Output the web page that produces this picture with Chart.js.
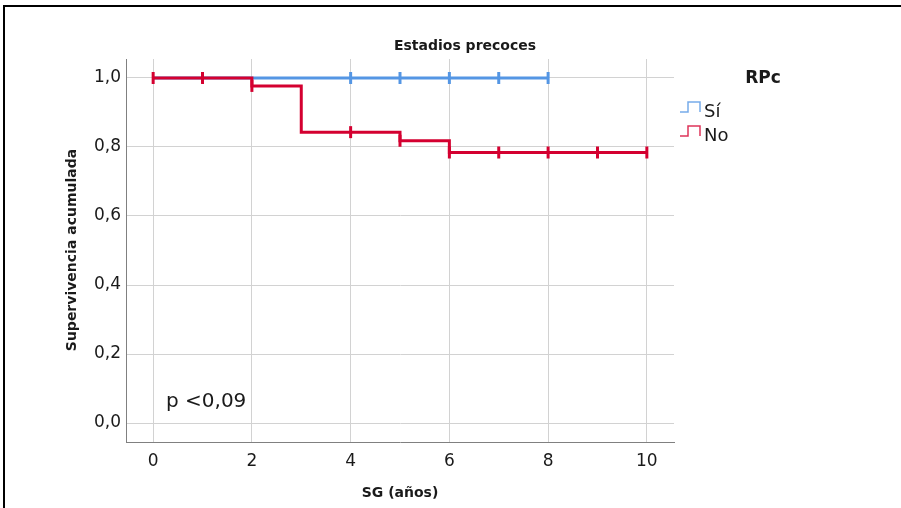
<!DOCTYPE html>
<html>
<head>
<meta charset="utf-8">
<script src="https://cdn.jsdelivr.net/npm/chart.js@4.4.1/dist/chart.umd.min.js"></script>
<style>
html, body { margin: 0; padding: 0; background: #fff; }
</style>
</head>
<body>
<canvas id="km" width="901" height="508"></canvas>
<script>
// Kaplan-Meier values
var noTimes    = [0, 1, 2, 3, 4, 5, 6, 7, 8, 9, 10];
var noSurv     = [1, 1, 0.977, 0.843, 0.843, 0.818, 0.784, 0.784, 0.784, 0.784, 0.784];
var noCensored = [1, 1, 1, 0, 1, 1, 1, 1, 1, 1, 1];
var siTimes    = [0, 1, 2, 3, 4, 5, 6, 7, 8];
var siSurv     = [1, 1, 1, 1, 1, 1, 1, 1, 1];
var siCensored = [0, 0, 0, 0, 1, 1, 1, 1, 1];
var xTicks = [0, 2, 4, 6, 8, 10];
var yTicks = [0, 0.2, 0.4, 0.6, 0.8, 1.0];
var groupNames = ['Sí', 'No'];
var legendTitle = 'RPc';
var chartTitle = 'Estadios precoces';
var xTitle = 'SG (años)';
var yTitle = 'Supervivencia acumulada';
var pNote = 'p <0,09';

var blue = 'rgb(84,150,228)';
var red = 'rgb(212,0,48)';
var FONT = '"DejaVu Sans", sans-serif';

function toPoints(t, s) {
    return t.map(function(v, i) { return { x: v, y: s[i] }; });
}

// titles, legend, note and frame
var extras = {
    id: 'extras',
    afterDraw: function(chart) {
        var c = chart.ctx;
        c.save();
        c.fillStyle = '#000';
        c.fillRect(3, 5, 898, 2);
        c.fillRect(3, 5, 2, 503);

        c.fillStyle = '#1a1a1a';
        c.textAlign = 'center';
        c.textBaseline = 'middle';
        c.font = 'bold 14px ' + FONT;
        c.fillText(chartTitle, 465, 46);
        c.fillText(xTitle, 400, 493);
        c.save();
        c.translate(72, 250);
        c.rotate(-Math.PI / 2);
        c.fillText(yTitle, 0, 0);
        c.restore();

        c.textAlign = 'left';
        c.font = '20px ' + FONT;
        c.fillText(pNote, 166, 402);

        // legend
        c.textAlign = 'center';
        c.font = 'bold 17px ' + FONT;
        c.fillText(legendTitle, 763, 79);
        c.textAlign = 'left';
        c.font = '18px ' + FONT;
        var cols = [blue, red];
        for (var i = 0; i < groupNames.length; i++) {
            var y = 111 + i * 24;
            c.strokeStyle = cols[i];
            c.globalAlpha = 0.8;
            c.lineWidth = 1.5;
            c.beginPath();
            c.moveTo(680, y + 1);
            c.lineTo(688, y + 1);
            c.lineTo(688, y - 9);
            c.lineTo(700, y - 9);
            c.lineTo(700, y + 1);
            c.stroke();
            c.globalAlpha = 1;
            c.fillText(groupNames[i], 704, y + 1);
        }
        c.restore();
    }
};

var ctx = document.getElementById('km').getContext('2d');
var kmChart = new Chart(ctx, {
    type: 'line',
    data: {
        datasets: [{
            label: groupNames[1],
            data: toPoints(noTimes, noSurv),
            borderColor: red,
            backgroundColor: red,
            borderWidth: 3,
            stepped: true,
            pointStyle: 'line',
            rotation: 90,
            pointRadius: noCensored.map(function(c) { return c ? 6 : 0; }),
            pointBorderWidth: 3,
            order: 0
        }, {
            label: groupNames[0],
            data: toPoints(siTimes, siSurv),
            borderColor: blue,
            backgroundColor: blue,
            borderWidth: 3,
            stepped: true,
            pointStyle: 'line',
            rotation: 90,
            pointRadius: siCensored.map(function(c) { return c ? 6 : 0; }),
            pointBorderWidth: 3,
            order: 1
        }]
    },
    options: {
        responsive: false,
        animation: false,
        layout: { padding: { top: 59, right: 227, left: 0, bottom: 0 } },
        plugins: { legend: { display: false }, title: { display: false }, tooltip: { enabled: false } },
        scales: {
            x: {
                type: 'linear',
                min: -0.55,
                max: 10.55,
                afterBuildTicks: function(s) { s.ticks = xTicks.map(function(v) { return { value: v }; }); },
                afterFit: function(s) { s.height = 66; },
                ticks: {
                    color: '#1a1a1a',
                    font: { family: FONT, size: 17 },
                    padding: 9,
                    maxRotation: 0,
                    callback: function(v) { return String(v); }
                },
                grid: { color: '#d2d2d2', drawTicks: false },
                border: { color: '#808080' }
            },
            y: {
                type: 'linear',
                min: -0.055,
                max: 1.055,
                afterBuildTicks: function(s) { s.ticks = yTicks.map(function(v) { return { value: v }; }); },
                afterFit: function(s) { s.width = 126; },
                ticks: {
                    color: '#1a1a1a',
                    font: { family: FONT, size: 17 },
                    padding: 5,
                    callback: function(v) { return v.toFixed(1).replace('.', ','); }
                },
                grid: { color: '#d2d2d2', drawTicks: false },
                border: { color: '#808080' }
            }
        }
    },
    plugins: [extras]
});
</script>
</body>
</html>
